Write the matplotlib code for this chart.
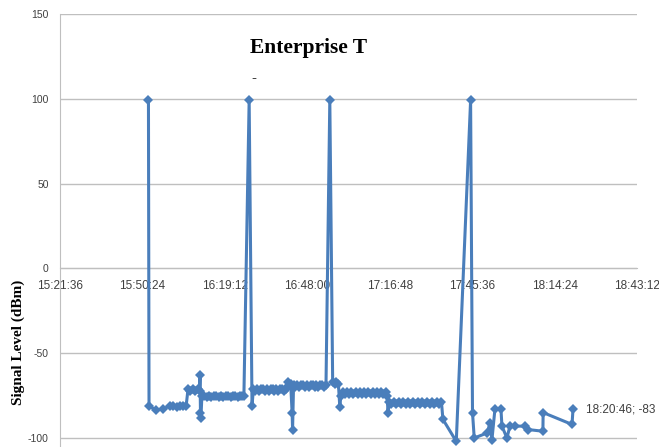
import pandas as pd
import matplotlib
matplotlib.use('Agg')
import matplotlib.pyplot as plt
import matplotlib.dates as mdates

# Dados (hora, nível de sinal em dBm)
times = [
    '15:52:30', '15:52:42', '15:55:00', '15:57:30', '16:00:00', '16:01:10', '16:02:20', '16:03:30',
    '16:04:40', '16:05:40', '16:06:20', '16:07:10', '16:08:00', '16:08:50', '16:09:40', '16:10:20',
    '16:10:30', '16:10:40', '16:10:50', '16:11:10',
    '16:12:00', '16:12:50', '16:13:40', '16:14:30', '16:15:20', '16:16:10', '16:17:00', '16:17:50',
    '16:18:40', '16:19:30', '16:20:20', '16:21:10', '16:22:00', '16:22:50', '16:23:40', '16:24:30',
    '16:25:20', '16:25:50',
    '16:27:40', '16:28:40',
    '16:29:10', '16:29:50', '16:30:30', '16:31:10', '16:31:50', '16:32:30', '16:33:10', '16:33:50',
    '16:34:30', '16:35:10', '16:35:50', '16:36:30', '16:37:10', '16:37:50', '16:38:30', '16:39:10',
    '16:39:50', '16:40:30', '16:41:00', '16:41:20', '16:42:10', '16:42:40', '16:42:50', '16:43:10',
    '16:43:50', '16:44:30', '16:45:10', '16:45:50', '16:46:30', '16:47:10', '16:47:50', '16:48:30',
    '16:49:10', '16:49:50', '16:50:30', '16:51:10', '16:51:50', '16:52:30', '16:53:10', '16:53:50',
    '16:54:30',
    '16:55:50', '16:56:50', '16:57:30', '16:58:10', '16:58:50', '16:59:20', '16:59:40',
    '17:00:20', '17:01:05', '17:01:50', '17:02:35', '17:03:20', '17:04:05', '17:04:50', '17:05:35',
    '17:06:20', '17:07:05', '17:07:50', '17:08:35', '17:09:20', '17:10:05', '17:10:50', '17:11:35',
    '17:12:20', '17:13:05', '17:13:50', '17:14:35', '17:15:20', '17:15:50', '17:16:10', '17:16:30',
    '17:17:20', '17:18:10', '17:19:00', '17:19:50', '17:20:40', '17:21:30', '17:22:20', '17:23:10',
    '17:24:00', '17:24:50', '17:25:40', '17:26:30', '17:27:20', '17:28:10', '17:29:00', '17:29:50',
    '17:30:40', '17:31:30', '17:32:20', '17:33:10', '17:34:00', '17:34:50',
    '17:35:20', '17:40:00', '17:45:00', '17:45:40', '17:46:16', '17:50:49', '17:51:45', '17:52:27',
    '17:53:30', '17:55:36', '17:55:57', '17:57:41', '17:58:44', '18:00:30', '18:04:00', '18:05:00',
    '18:10:15', '18:10:20', '18:20:25', '18:20:46',
]
signal = [
    99, -81, -83.5, -83, -81, -81, -82, -81,
    -81, -81, -71, -72, -71, -72, -71, -72,
    -63, -85, -88, -75,
    -75, -76, -75, -76, -75, -75, -76, -75,
    -76, -75, -75, -76, -75, -75, -76, -75,
    -75, -75,
    99, -81,
    -71, -72, -71, -72, -71, -71, -72, -71,
    -72, -71, -71, -72, -71, -72, -71, -71,
    -72, -71, -70, -67, -68, -85, -95, -69,
    -70, -69, -70, -69, -69, -70, -69, -70,
    -69, -69, -70, -69, -70, -69, -69, -70,
    -69,
    99, -67, -68, -67, -68, -82, -75,
    -73, -74, -73, -74, -73, -74, -73, -74,
    -73, -74, -73, -74, -73, -74, -73, -74,
    -73, -74, -73, -74, -73, -75, -85, -79,
    -80, -79, -80, -79, -80, -79, -80, -79,
    -80, -79, -80, -79, -80, -79, -80, -79,
    -80, -79, -80, -79, -80, -79,
    -89, -102, 99, -85, -100, -97, -91, -101,
    -83, -83, -93, -100, -93, -93, -93, -95,
    -96, -85, -92, -83,
]
tick_labels = ['15:21:36', '15:50:24', '16:19:12', '16:48:00',
               '17:16:48', '17:45:36', '18:14:24', '18:43:12']
y_ticks = [-100, -50, 0, 50, 100, 150]

plt.rcParams['font.family'] = 'Liberation Sans'

day = '2013-01-01 '
t = mdates.date2num(pd.to_datetime([day + s for s in times]))
ticks = mdates.date2num(pd.to_datetime([day + s for s in tick_labels]))

cor = '#4A7EBB'
cinza = '#404040'

fig = plt.figure(figsize=(6.59, 4.47), dpi=100)
ax = fig.add_axes([0.091, 0.0, 0.876, 0.9687])

ax.plot(t, signal, color=cor, linewidth=2.2, marker='D', markersize=5,
        markeredgewidth=0, zorder=3)

ax.set_xlim(ticks[0], ticks[-1])
ax.set_ylim(-105.3, 150)
ax.set_xticks(ticks)
ax.set_xticklabels(tick_labels)
ax.set_yticks(y_ticks)
ax.set_yticklabels([str(v) for v in y_ticks])
ax.tick_params(axis='x', length=0, pad=8.5, labelsize=8.5, labelcolor=cinza)
ax.tick_params(axis='y', length=0, pad=8, labelsize=7.5, labelcolor=cinza)

# Grade e eixos no estilo do Excel
ax.grid(axis='y', color='#BFBFBF', linewidth=1)
ax.set_axisbelow(True)
ax.spines['top'].set_visible(False)
ax.spines['right'].set_visible(False)
ax.spines['left'].set_color('#BFBFBF')
ax.spines['bottom'].set_position(('data', 0))
ax.spines['bottom'].set_color('#BFBFBF')

# Rótulo do último ponto
ax.annotate('18:20:46; -83', (t[-1], signal[-1]), xytext=(9, 0),
            textcoords='offset points', va='center', fontsize=8.5, color=cinza)

fig.text(0.379, 0.893, 'Enterprise T', fontsize=15.5, fontweight='bold',
         family='Liberation Serif', va='center', ha='left')
fig.text(0.382, 0.826, '-', fontsize=11, color=cinza, va='center', ha='left')
fig.text(0.027, 0.234, 'Signal Level (dBm)', rotation=90, fontsize=11,
         fontweight='bold', family='Liberation Serif', va='center', ha='center')

fig.savefig('out.png', dpi=100)
